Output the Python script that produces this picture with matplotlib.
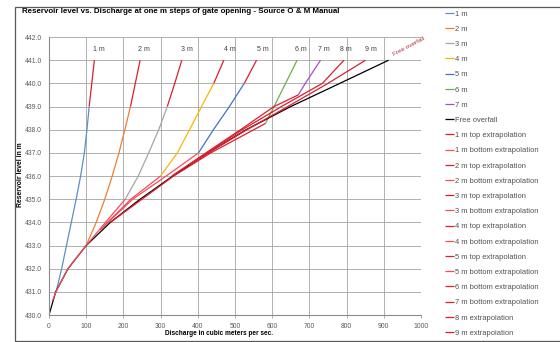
import matplotlib.pyplot as plt
from matplotlib.patches import Rectangle

plt.rcParams['font.family'] = ['Liberation Sans', 'DejaVu Sans']

# reservoir levels (m) and discharges (cumecs) for each gate opening
g1_level = [431, 432, 433, 434, 435, 436, 437, 438, 439]
g1_q = [19, 34, 47, 60, 73, 85, 95, 102, 108]
g2_level = [433, 434, 435, 436, 437, 438, 439]
g2_q = [100, 127, 150, 170, 188, 204, 219]
g3_level = [435, 436, 437, 438, 439]
g3_q = [205, 240, 268, 295, 318]
g4_level = [436, 437, 438, 439, 440]
g4_q = [300, 345, 378, 410, 443]
g5_level = [437, 438, 439, 440]
g5_q = [402, 442, 485, 525]
g6_level = [438.27, 439, 440, 441]
g6_q = [582, 605, 636, 667]
g7_level = [439.5, 440, 441]
g7_q = [670, 689, 730]

free_level = [430, 431, 432, 433, 434, 435, 436, 437, 438, 439, 440, 441]
free_q = [0, 18, 51, 100, 165, 245, 333, 428, 530, 650, 782, 913]

# extrapolated parts
t1_level = [439, 440, 441]
t1_q = [108, 115, 122]
b1_level = [430.6, 431]
b1_q = [9, 19]
t2_level = [439, 440, 441]
t2_q = [219, 232, 245]
b2_level = [431, 432, 433]
b2_q = [18, 51, 100]
t3_level = [439, 440, 441]
t3_q = [318, 338, 357]
b3_level = [433, 434, 435]
b3_q = [100, 152, 205]
t4_level = [440, 441]
t4_q = [443, 470]
b4_level = [433.67, 435, 436]
b4_q = [137, 220, 300]
t5_level = [440, 441]
t5_q = [525, 558]
b5_level = [433.67, 435, 436, 437]
b5_q = [137, 225, 315, 402]
b6_level = [434, 436, 437, 438.27]
b6_q = [165, 335, 435, 582]
b7_level = [436, 437, 438, 439, 439.5]
b7_q = [330, 422, 515, 605, 670]
e8_level = [436.5, 437, 438, 439, 440, 441]
e8_q = [380, 425, 520, 625, 735, 793]
e9_level = [436.5, 437, 438, 439, 440, 441]
e9_q = [380, 428, 532, 642, 750, 851]

gate_names = ['1 m', '2 m', '3 m', '4 m', '5 m', '6 m', '7 m', '8 m', '9 m']
gate_label_q = [133, 254, 371, 487, 576, 676, 738, 797, 865]

top_red = '#dc1e2e'
bottom_red = '#f24d5c'

series = [
    (g1_q, g1_level, '#5b8fc9', '1 m'),
    (g2_q, g2_level, '#ed7d31', '2 m'),
    (g3_q, g3_level, '#a5a5a5', '3 m'),
    (g4_q, g4_level, '#f5b800', '4 m'),
    (g5_q, g5_level, '#4472c4', '5 m'),
    (g6_q, g6_level, '#70ad47', '6 m'),
    (g7_q, g7_level, '#a64dcc', '7 m'),
    (free_q, free_level, 'black', 'Free overfall'),
    (t1_q, t1_level, top_red, '1 m top extrapolation'),
    (b1_q, b1_level, bottom_red, '1 m bottom extrapolation'),
    (t2_q, t2_level, top_red, '2 m top extrapolation'),
    (b2_q, b2_level, bottom_red, '2 m bottom extrapolation'),
    (t3_q, t3_level, top_red, '3 m top extrapolation'),
    (b3_q, b3_level, bottom_red, '3 m bottom extrapolation'),
    (t4_q, t4_level, top_red, '4 m top extrapolation'),
    (b4_q, b4_level, bottom_red, '4 m bottom extrapolation'),
    (t5_q, t5_level, top_red, '5 m top extrapolation'),
    (b5_q, b5_level, bottom_red, '5 m bottom extrapolation'),
    (b6_q, b6_level, top_red, '6 m bottom extrapolation'),
    (b7_q, b7_level, top_red, '7 m bottom extrapolation'),
    (e8_q, e8_level, top_red, '8 m extrapolation'),
    (e9_q, e9_level, top_red, '9 m extrapolation'),
]

fig = plt.figure(figsize=(5.6, 3.42), dpi=100)
ax = fig.add_axes([0.0875, 0.0789, 0.6643, 0.8129])

for q, lev, col, name in series:
    ax.plot(q, lev, color=col, lw=0.9, label=name, solid_capstyle='butt')

ax.set_xlim(0, 1000)
ax.set_ylim(430, 442)
ax.set_xticks(range(0, 1001, 100))
ax.set_yticks(range(430, 443))
ax.set_yticklabels([f'{v:.1f}' for v in range(430, 443)])
ax.grid(True, color='#a3a3a3', lw=0.6)
ax.set_axisbelow(True)
for s in ['top', 'right']:
    ax.spines[s].set_visible(False)
for s in ['left', 'bottom']:
    ax.spines[s].set_color('#8c8c8c')
    ax.spines[s].set_linewidth(0.8)
ax.tick_params(axis='y', length=0, pad=5, labelsize=4.9, labelcolor='#595959')
ax.tick_params(axis='x', length=2, width=0.5, color='#8c8c8c', pad=4,
               labelsize=4.9, labelcolor='#595959')

# gate opening labels along the top
for name, q in zip(gate_names, gate_label_q):
    ax.text(q, 441.45, name, fontsize=5, color='#404040', ha='center', va='center')
ax.text(968, 441.6, 'Free overfall', fontsize=4.6, color='#b03040',
        rotation=28, ha='center', va='center')

fig.text(0.039, 0.966, 'Reservoir level vs. Discharge at one m steps of gate opening - Source O & M Manual',
         fontsize=5.65, fontweight='bold', ha='left', va='center')
fig.text(0.036, 0.488, 'Reservoir level in m', fontsize=4.9, fontweight='bold',
         rotation=90, ha='center', va='center')
fig.text(0.391, 0.026, 'Discharge in cubic meters per sec.', fontsize=4.7,
         fontweight='bold', ha='center', va='center')

leg = ax.legend(loc='upper left', bbox_to_anchor=(0.794, 0.970), bbox_transform=fig.transFigure,
                frameon=False, fontsize=5.4, handlelength=1.2, handletextpad=0.15,
                labelspacing=1.06, borderaxespad=0, borderpad=0)
for t in leg.get_texts():
    t.set_color('#505050')

# chart area border
fig.patches.append(Rectangle((15 / 560, 1 / 342), 1.0, 334 / 342, transform=fig.transFigure,
                             fill=False, edgecolor='#595959', lw=0.9))

fig.savefig('out.png', dpi=100)
plt.close(fig)
